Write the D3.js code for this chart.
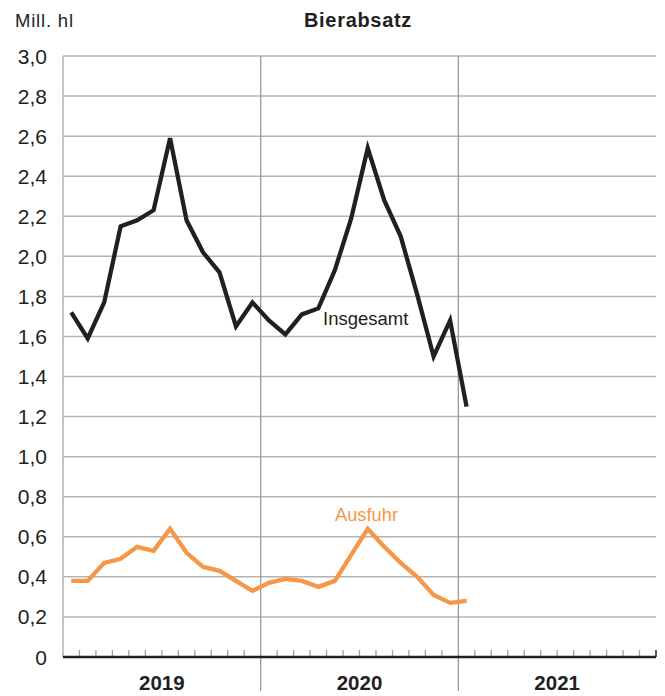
<!DOCTYPE html>
<html>
<head>
<meta charset="utf-8">
<script src="https://cdn.jsdelivr.net/npm/d3@7"></script>
<style>
  html, body { margin: 0; padding: 0; background: #fff; }
  svg { display: block; font-family: "Liberation Sans", Arial, Helvetica, sans-serif; }
</style>
</head>
<body>
<svg id="chart" width="665" height="696"></svg>
<script>
// ---- data ----
const years = ["2019", "2020", "2021"];
const months = ["Jan 2019","Feb 2019","Mär 2019","Apr 2019","Mai 2019","Jun 2019","Jul 2019","Aug 2019","Sep 2019","Okt 2019","Nov 2019","Dez 2019",
                "Jan 2020","Feb 2020","Mär 2020","Apr 2020","Mai 2020","Jun 2020","Jul 2020","Aug 2020","Sep 2020","Okt 2020","Nov 2020","Dez 2020",
                "Jan 2021"];
const insgesamt = [1.72, 1.59, 1.77, 2.15, 2.18, 2.23, 2.59, 2.18, 2.02, 1.92, 1.65, 1.77,
                   1.68, 1.61, 1.71, 1.74, 1.93, 2.19, 2.54, 2.28, 2.10, 1.81, 1.50, 1.68,
                   1.25];
const ausfuhr = [0.38, 0.38, 0.47, 0.49, 0.55, 0.53, 0.64, 0.52, 0.45, 0.43, 0.38, 0.33,
                 0.37, 0.39, 0.38, 0.35, 0.38, 0.51, 0.64, 0.55, 0.47, 0.40, 0.31, 0.27,
                 0.28];
const yTicks = [0, 0.2, 0.4, 0.6, 0.8, 1.0, 1.2, 1.4, 1.6, 1.8, 2.0, 2.2, 2.4, 2.6, 2.8, 3.0];
const yTickLabels = ["0", "0,2", "0,4", "0,6", "0,8", "1,0", "1,2", "1,4", "1,6", "1,8", "2,0", "2,2", "2,4", "2,6", "2,8", "3,0"];

// ---- layout ----
const L = 63, R = 656, T = 56, B = 657;
const svg = d3.select("#chart");
const x = d3.scaleLinear().domain([0, 36]).range([L, R]);
const y = d3.scaleLinear().domain([0, 3]).range([B, T]);
const gridColor = "#b3b3b3";
const dark = "#231f20";
const orange = "#f79646";

// horizontal gridlines
svg.append("g").selectAll("line").data(yTicks.filter(v => v > 0)).join("line")
  .attr("x1", L).attr("x2", R)
  .attr("y1", d => y(d)).attr("y2", d => y(d))
  .attr("stroke", gridColor).attr("stroke-width", 1.5);

// left axis line
svg.append("line").attr("x1", L).attr("x2", L).attr("y1", T).attr("y2", B)
  .attr("stroke", gridColor).attr("stroke-width", 1.5);

// year dividers
svg.append("g").selectAll("line").data([12, 24]).join("line")
  .attr("x1", d => x(d)).attr("x2", d => x(d))
  .attr("y1", T).attr("y2", 691)
  .attr("stroke", "#9a9a9a").attr("stroke-width", 1.3);

// month ticks
svg.append("g").selectAll("line").data(d3.range(1, 36).filter(d => d % 12 !== 0)).join("line")
  .attr("x1", d => x(d)).attr("x2", d => x(d))
  .attr("y1", B - 7).attr("y2", B)
  .attr("stroke", "#a0a0a0").attr("stroke-width", 1.3);
svg.append("line").attr("x1", x(36)).attr("x2", x(36)).attr("y1", B - 7).attr("y2", B)
  .attr("stroke", dark).attr("stroke-width", 1.5);

// y tick labels
svg.append("g").selectAll("text").data(yTicks).join("text")
  .attr("x", 47).attr("y", d => y(d)).attr("dy", "0.36em")
  .attr("text-anchor", "end").attr("font-size", 21).attr("fill", dark)
  .text((d, i) => yTickLabels[i]);

// x axis baseline
svg.append("line").attr("x1", L).attr("x2", R).attr("y1", B).attr("y2", B)
  .attr("stroke", dark).attr("stroke-width", 2.6);

// year labels
svg.append("g").selectAll("text").data(years).join("text")
  .attr("x", (d, i) => x(i * 12 + 6)).attr("y", 690)
  .attr("text-anchor", "middle").attr("font-size", 20.5).attr("font-weight", "bold").attr("fill", dark)
  .text(d => d);

// lines
const line = d3.line().x((d, i) => x(i + 0.5)).y(d => y(d));
svg.append("path").datum(ausfuhr).attr("d", line)
  .attr("fill", "none").attr("stroke", orange).attr("stroke-width", 4.3).attr("stroke-linejoin", "miter");
svg.append("path").datum(insgesamt).attr("d", line)
  .attr("fill", "none").attr("stroke", dark).attr("stroke-width", 4.3).attr("stroke-linejoin", "miter");

// series labels
svg.append("text").attr("x", 323).attr("y", 325).attr("font-size", 18.5).attr("fill", dark).text("Insgesamt");
svg.append("text").attr("x", 335).attr("y", 521).attr("font-size", 18.3).attr("fill", orange).text("Ausfuhr");

// title and unit
svg.append("text").attr("x", 358).attr("y", 27).attr("text-anchor", "middle")
  .attr("font-size", 20).attr("font-weight", "bold").attr("letter-spacing", 0.7).attr("fill", dark).text("Bierabsatz");
svg.append("text").attr("x", 15).attr("y", 27).attr("font-size", 18.5).attr("letter-spacing", 0.8).attr("fill", dark).text("Mill. hl");
</script>
</body>
</html>
